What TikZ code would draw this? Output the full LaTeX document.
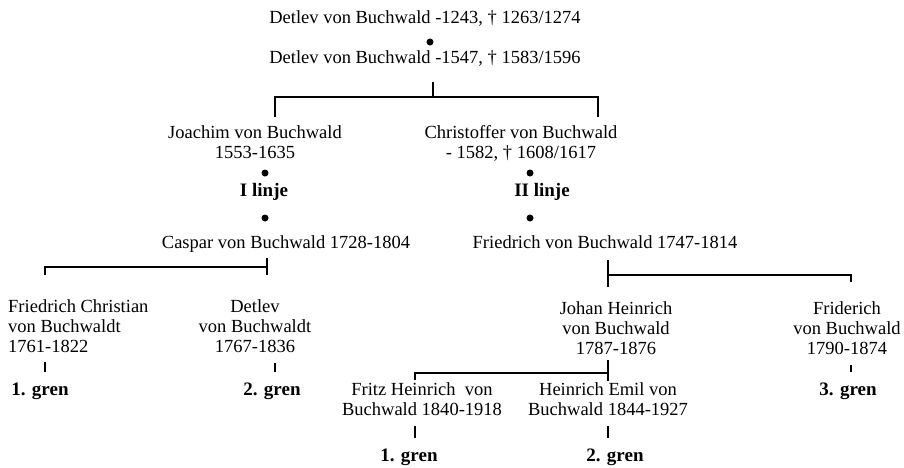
\documentclass[tikz,border=0pt]{standalone}
\usepackage{fontspec}
\setmainfont{Liberation Serif}
\tikzset{
  person/.style={inner sep=0pt, anchor=base, align=center, font=\fontsize{18.5}{20}\selectfont},
  branch/.style={person, font=\fontsize{19}{20}\selectfont\bfseries},
  bullet/.style={circle, fill=black, inner sep=0pt, minimum size=7pt},
  bar/.style={line width=1.6pt}
}

\begin{document}
\begin{tikzpicture}[x=1pt, y=-1pt]
				% Fix the page size
				\useasboundingbox (0,0) rectangle (904,467);
				
				% Top of the tree
				\node[person] (detlevA) at (425,23) {Detlev von Buchwald -1243, † 1263/1274};
				\node[bullet] (dotA) at (430,42) {};
				\node[person] (detlevB) at (425,63) {Detlev von Buchwald -1547, † 1583/1596};
				
				% Split into the two lines
				\coordinate (splitA) at (433,82);
				\coordinate (splitAm) at (433,97);
				\coordinate (splitAl) at (275,117);
				\coordinate (splitAr) at (598,117);
				\draw[bar] (splitA) -- (splitAm);
				\draw[bar] (splitAl) |- (splitAm) -| (splitAr);
				
				% Line I (multi-line nodes sit on their last baseline)
				\node[person] (joachim) at (255,158) {Joachim von Buchwald\\1553-1635};
				\node[bullet] (dotB) at (265,173) {};
				\node[branch] (linjeI) at (264,196) {I linje};
				\node[bullet] (dotC) at (265,218) {};
				\node[person] (caspar) at (286,248) {Caspar von Buchwald 1728-1804};
				
				% Line II
				\node[person] (christoffer) at (521,158) {Christoffer von Buchwald\\- 1582, † 1608/1617};
				\node[bullet] (dotD) at (530,173) {};
				\node[branch] (linjeII) at (542,196) {II linje};
				\node[bullet] (dotE) at (530,218) {};
				\node[person] (friedrich) at (605,248) {Friedrich von Buchwald 1747-1814};
				
				% Children of Caspar
				\coordinate (splitB) at (267,258);
				\coordinate (splitBm) at (267,267);
				\coordinate (splitBe) at (267,275);
				\coordinate (splitBl) at (45,275);
				\draw[bar] (splitB) -- (splitBe);
				\draw[bar] (splitBl) |- (splitBm);
				\node[person, anchor=base west, align=left] (fchristian) at (8,352) {Friedrich Christian\\von Buchwaldt\\1761-1822};
				\node[person] (detlevC) at (255,352) {Detlev\\von Buchwaldt\\1767-1836};
				
				% Children of Friedrich
				\coordinate (splitC) at (608,260);
				\coordinate (splitCm) at (608,275);
				\coordinate (splitCe) at (608,287);
				\coordinate (splitCr) at (851,282);
				\draw[bar] (splitC) -- (splitCe);
				\draw[bar] (splitCm) -| (splitCr);
				\node[person] (johan) at (616,354) {Johan Heinrich\\von Buchwald\\1787-1876};
				\node[person] (friderich) at (847,354) {Friderich\\von Buchwald\\1790-1874};
				
				% Branches of the first generation
				\coordinate (tickA) at (45,362);
				\coordinate (tickAe) at (45,372);
				\coordinate (tickB) at (275,363);
				\coordinate (tickBe) at (275,372);
				\coordinate (tickC) at (851,365);
				\coordinate (tickCe) at (851,372);
				\draw[bar] (tickA) -- (tickAe);
				\draw[bar] (tickB) -- (tickBe);
				\draw[bar] (tickC) -- (tickCe);
				\node[branch] (grenA) at (40,395) {1. gren};
				\node[branch] (grenB) at (272,395) {2. gren};
				\node[branch] (grenC) at (848,395) {3. gren};
				
				% Children of Johan Heinrich
				\coordinate (splitD) at (608,360);
				\coordinate (splitDm) at (608,373);
				\coordinate (splitDe) at (608,381);
				\coordinate (splitDl) at (415,380);
				\draw[bar] (splitD) -- (splitDe);
				\draw[bar] (splitDl) |- (splitDm);
				\node[person] (fritz) at (422,415) {Fritz Heinrich~ von\\Buchwald 1840-1918};
				\node[person] (emil) at (608,415) {Heinrich Emil von\\Buchwald 1844-1927};
				
				% Branches of Johan Heinrich
				\coordinate (tickD) at (415,426);
				\coordinate (tickDe) at (415,438);
				\coordinate (tickE) at (608,426);
				\coordinate (tickEe) at (608,438);
				\draw[bar] (tickD) -- (tickDe);
				\draw[bar] (tickE) -- (tickEe);
				\node[branch] (grenD) at (409,461) {1. gren};
				\node[branch] (grenE) at (615,461) {2. gren};
			\end{tikzpicture}
\end{document}
